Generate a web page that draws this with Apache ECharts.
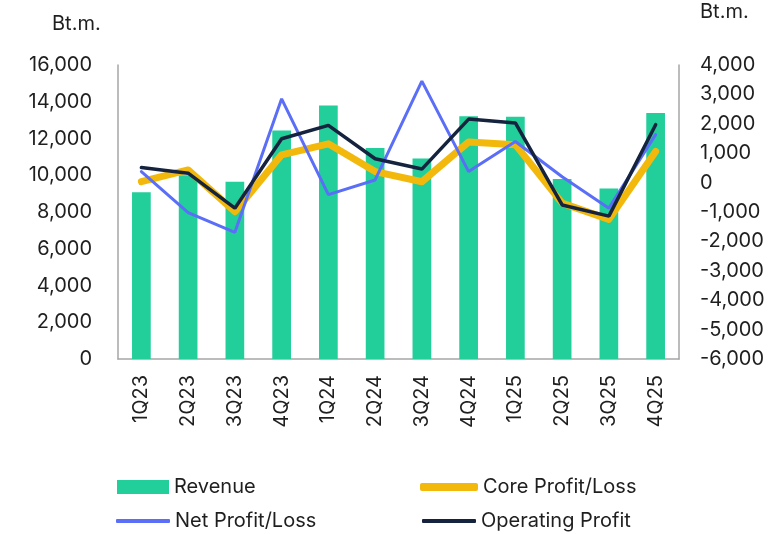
<!DOCTYPE html>
<html><head><meta charset="utf-8">
<script src="https://cdn.jsdelivr.net/npm/echarts@6/dist/echarts.min.js"></script>
<style>html,body{margin:0;padding:0;background:#fff}#c{width:769px;height:534px}</style>
</head><body><div id="c"></div>
<script>
const categories = ['1Q23','2Q23','3Q23','4Q23','1Q24','2Q24','3Q24','4Q24','1Q25','2Q25','3Q25','4Q25'];
const revenue = [9080, 10000, 9640, 12440, 13790, 11480, 10910, 13210, 13190, 9800, 9275, 13390];
const coreProfit = [30, 430, -990, 945, 1320, 375, 30, 1380, 1290, -700, -1250, 1060];
const netProfit = [375, -1020, -1690, 2850, -410, 90, 3450, 375, 1400, 200, -870, 1630];
const operatingProfit = [510, 320, -870, 1490, 1945, 810, 460, 2160, 2030, -760, -1140, 1970];
const leftTicks = [0, 16000, 2000];
const rightTicks = [-6000, 4000, 1000];

const font = 'Inter, Roboto, "Noto Sans", sans-serif';
const txt = '#1f1f1f';
const fs = 20;
const chart = echarts.init(document.getElementById('c'), null, {renderer:'canvas'});
function lg(name, left, top, w, h, icon){
  return {data:[name], left:left, top:top, padding:0, itemWidth:w, itemHeight:h, icon:icon,
    textStyle:{fontSize:fs, color:txt, fontFamily:font, lineHeight:22}};
}
chart.setOption({
  animation: false,
  textStyle: {fontFamily: font},
  grid: {left: 118, right: 90, top: 65, bottom: 175},
  graphic: [
    {type:'text', left: 52, top: 14, style:{text:'Bt.m.', font:fs+'px '+font, fill:txt}},
    {type:'text', left: 700, top: 2, style:{text:'Bt.m.', font:fs+'px '+font, fill:txt}}
  ],
  legend: [
    lg('Revenue', 117, 476, 52, 14, 'rect'),
    lg('Net Profit/Loss', 116, 510, 54, 4, 'roundRect'),
    lg('Core Profit/Loss', 420, 476, 58, 8, 'roundRect'),
    lg('Operating Profit', 422, 510, 54, 4, 'roundRect')
  ],
  xAxis: {
    type:'category', data: categories,
    axisLine:{lineStyle:{color:'#a6a6a6', width:1.5}},
    axisTick:{show:false},
    axisLabel:{rotate:90, fontSize:fs, color:txt, margin:16, fontFamily:font}
  },
  yAxis: [
    {type:'value', min:leftTicks[0], max:leftTicks[1], interval:leftTicks[2],
     axisLine:{show:true, lineStyle:{color:'#a6a6a6', width:1.5}}, axisTick:{show:false}, splitLine:{show:false},
     axisLabel:{fontSize:fs, color:txt, margin:26, fontFamily:font,
       formatter: v => v.toLocaleString('en-US')}},
    {type:'value', min:rightTicks[0], max:rightTicks[1], interval:rightTicks[2], position:'right',
     axisLine:{show:true, lineStyle:{color:'#a6a6a6', width:1.5}}, axisTick:{show:false}, splitLine:{show:false},
     axisLabel:{fontSize:fs, color:txt, margin:21, fontFamily:font,
       formatter: v => v.toLocaleString('en-US')}}
  ],
  series: [
    {name:'Revenue', type:'bar', data: revenue, barWidth:'40%', itemStyle:{color:'#22CE99'}},
    {name:'Core Profit/Loss', type:'line', yAxisIndex:1, data: coreProfit, symbol:'none',
     lineStyle:{color:'#F2B90C', width:7, cap:'round', join:'round'}, itemStyle:{color:'#F2B90C'}},
    {name:'Net Profit/Loss', type:'line', yAxisIndex:1, data: netProfit, symbol:'none',
     lineStyle:{color:'#5B6EF8', width:3, cap:'round'}, itemStyle:{color:'#5B6EF8'}},
    {name:'Operating Profit', type:'line', yAxisIndex:1, data: operatingProfit, symbol:'none',
     lineStyle:{color:'#15233F', width:3.5, cap:'round'}, itemStyle:{color:'#15233F'}}
  ]
});
</script></body></html>
